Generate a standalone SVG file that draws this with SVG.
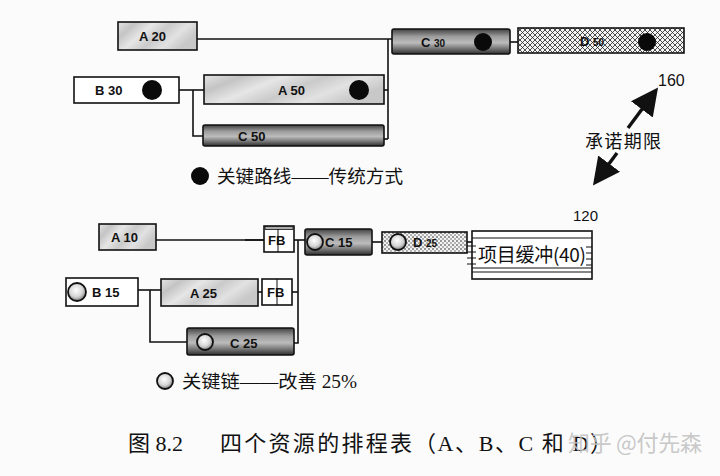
<svg xmlns="http://www.w3.org/2000/svg" width="720" height="476" viewBox="0 0 720 476">
<defs>
<style>
.box{stroke:#111;stroke-width:1.6}
.lbl{font-family:"Liberation Sans","Noto Sans CJK SC",sans-serif;font-size:13px;fill:#111;font-weight:bold}
.sm{font-size:10px}
.con{fill:none;stroke:#111;stroke-width:1.6}
.ser{font-family:"Liberation Serif","Noto Sans CJK SC",serif;fill:#111}
.sans{font-family:"Noto Sans CJK SC",sans-serif;fill:#111}
.num{font-family:"Liberation Sans",sans-serif;fill:#111}
.dot{fill:#0a0a0a}
.hol{fill:url(#gH);stroke:#111;stroke-width:1.8}
.arr{stroke:#111;stroke-width:3.4;fill:none}
</style>
<linearGradient id="gA" x1="0" y1="0" x2="1" y2="0.4">
<stop offset="0" stop-color="#e4e4e4"/>
<stop offset="0.2" stop-color="#c4c4c4"/>
<stop offset="0.4" stop-color="#e6e6e6"/>
<stop offset="0.6" stop-color="#cacaca"/>
<stop offset="0.8" stop-color="#e2e2e2"/>
<stop offset="1" stop-color="#c8c8c8"/>
</linearGradient>
<linearGradient id="gC" x1="0" y1="0" x2="0" y2="1">
<stop offset="0" stop-color="#404040"/>
<stop offset="0.3" stop-color="#9c9c9c"/>
<stop offset="0.55" stop-color="#bcbcbc"/>
<stop offset="0.8" stop-color="#707070"/>
<stop offset="1" stop-color="#2e2e2e"/>
</linearGradient>
<radialGradient id="gH" cx="0.45" cy="0.4" r="0.6">
<stop offset="0" stop-color="#ffffff"/>
<stop offset="0.6" stop-color="#d6d6d6"/>
<stop offset="1" stop-color="#808080"/>
</radialGradient>
<pattern id="pX" width="5" height="5" patternUnits="userSpaceOnUse">
<rect width="5" height="5" fill="#f4f4f4"/>
<path d="M0,5 L5,0 M0,0 L5,5" stroke="#222" stroke-width="0.8"/>
</pattern>
<pattern id="pD" width="4" height="4" patternUnits="userSpaceOnUse">
<rect width="4" height="4" fill="#f2f2f2"/>
<circle cx="1" cy="1" r="0.8" fill="#222"/>
<circle cx="3" cy="3" r="0.7" fill="#444"/>
</pattern>
<marker id="ah" markerWidth="8" markerHeight="8" refX="6" refY="4" orient="auto" markerUnits="strokeWidth">
<path d="M0,0 L8,4 L0,8 Z" fill="#111"/>
</marker>
</defs>
<rect width="720" height="476" fill="#fbfbfb"/>

<g id="connectors">
<path class="con" d="M197,39 H392"/>
<path class="con" d="M388,39 V139"/>
<path class="con" d="M384,90 H388"/>
<path class="con" d="M384,139 H388"/>
<path class="con" d="M179,90 H204"/>
<path class="con" d="M193,90 V136 H203"/>
<path class="con" d="M510,42 H518"/>
<path class="con" d="M156,240 H264"/>
<path class="con" d="M245,240 H264" stroke-width="3"/>
<path class="con" d="M294,240 H305"/>
<path class="con" d="M298,240 V343 H294"/>
<path class="con" d="M292,292 H298"/>
<path class="con" d="M372,242 H382"/>
<path class="con" d="M467,242 H472"/>
<path class="con" d="M138,290 H161"/>
<path class="con" d="M150,290 V342 H187"/>
<path class="con" d="M258,292 H262"/>
<line class="arr" x1="628" y1="128" x2="654" y2="93" marker-end="url(#ah)"/>
<line class="arr" x1="617" y1="153" x2="597" y2="180" marker-end="url(#ah)"/>
</g>

<g id="A20"><rect class="box" x="118" y="22" width="79" height="28" fill="url(#gA)"/><text class="lbl" x="139" y="41">A 20</text></g>
<g id="B30"><rect class="box" x="74" y="77" width="105" height="26" fill="#fff"/><text class="lbl" x="95" y="95">B 30</text><circle class="dot" cx="152" cy="90" r="10"/></g>
<g id="A50"><rect class="box" x="204" y="75" width="180" height="29" fill="url(#gA)"/><text class="lbl" x="278" y="95">A 50</text><circle class="dot" cx="359" cy="90" r="10"/></g>
<g id="C50"><rect class="box" x="203" y="125" width="181" height="21" rx="2" fill="url(#gC)"/><text class="lbl" x="238" y="141">C 50</text></g>
<g id="C30"><rect class="box" x="392" y="29" width="118" height="25" rx="2" fill="url(#gC)"/><text class="lbl" x="421" y="47">C <tspan class="sm">30</tspan></text><circle class="dot" cx="483" cy="42" r="9"/></g>
<g id="D50"><rect class="box" x="518" y="28" width="166" height="25" fill="url(#pX)"/><text class="lbl" x="580" y="46">D <tspan class="sm">50</tspan></text><circle class="dot" cx="647" cy="42" r="9"/></g>

<g id="legend1"><circle class="dot" cx="200" cy="176" r="9"/><text class="ser" x="217" y="183" font-size="18" textLength="186" lengthAdjust="spacingAndGlyphs">关键路线——传统方式</text></g>

<g id="label160"><text class="num" x="658" y="86" font-size="16">160</text></g>
<g id="commit"><text class="ser" x="585" y="148" font-size="18" textLength="76">承诺期限</text></g>
<g id="label120"><text class="num" x="573" y="221" font-size="15">120</text></g>

<g id="A10"><rect class="box" x="99" y="224" width="57" height="26" fill="url(#gA)"/><text class="lbl" x="111" y="242">A 10</text></g>
<g id="FB1"><rect class="box" x="264" y="226" width="30" height="26" fill="#fff"/><rect x="265" y="226.5" width="28" height="3" fill="#aaa" stroke="#111" stroke-width="0.8"/><line x1="278" y1="229" x2="278" y2="252" stroke="#111" stroke-width="1"/><text class="lbl" x="268" y="245">FB</text></g>
<g id="C15"><rect class="box" x="305" y="229" width="67" height="26" rx="2" fill="url(#gC)"/><circle class="hol" cx="315" cy="242" r="8"/><text class="lbl" x="325" y="247">C 15</text></g>
<g id="D25"><rect class="box" x="382" y="232" width="85" height="21" fill="url(#pD)"/><circle class="hol" cx="398" cy="242" r="8"/><text class="lbl" x="413" y="247">D <tspan class="sm">25</tspan></text></g>
<g id="buffer"><rect class="box" x="472" y="231" width="120" height="48" fill="#fff"/>
<path d="M472,238 H592 M472,268 H592 M472,272 H592" stroke="#111" stroke-width="1.2"/>
<path d="M467,246 H476 M467,252 H476 M467,258 H476 M467,264 H476 M586,247 H592 M586,253 H592 M586,259 H592 M586,265 H592" stroke="#111" stroke-width="1"/>
<text class="sans" x="478" y="262" font-size="19" textLength="108">项目缓冲(40)</text></g>
<g id="B15"><rect class="box" x="66" y="278" width="72" height="28" fill="#fff"/><circle class="hol" cx="77" cy="292" r="9"/><text class="lbl" x="92" y="297">B  15</text></g>
<g id="A25"><rect class="box" x="161" y="279" width="97" height="27" fill="url(#gA)"/><text class="lbl" x="190" y="298">A 25</text></g>
<g id="FB2"><rect class="box" x="262" y="279" width="30" height="26" fill="#fff"/><line x1="277" y1="279" x2="277" y2="305" stroke="#111" stroke-width="1"/><text class="lbl" x="267" y="297">FB</text></g>
<g id="C25"><rect class="box" x="187" y="328" width="107" height="27" rx="2" fill="url(#gC)"/><circle class="hol" cx="205" cy="342" r="8"/><text class="lbl" x="230" y="348">C 25</text></g>

<g id="legend2"><circle class="hol" cx="165" cy="381" r="8"/><text class="ser" x="182" y="388" font-size="18" textLength="175" lengthAdjust="spacingAndGlyphs">关键链——改善 25%</text></g>

<g id="caption">
<text class="ser" x="128" y="451" font-size="22">图 8.2</text>
<text class="ser" x="220" y="451" font-size="22" textLength="192">四个资源的排程表</text>
<text class="ser" x="414" y="451" font-size="22" textLength="198">（A、B、C 和 D）</text>
</g>
<g id="watermark"><text x="568" y="451" font-size="22" fill="#c2c2c2" fill-opacity="0.9" font-family="'Noto Sans CJK SC',sans-serif" textLength="134">知乎 @付先森</text></g>
</svg>
